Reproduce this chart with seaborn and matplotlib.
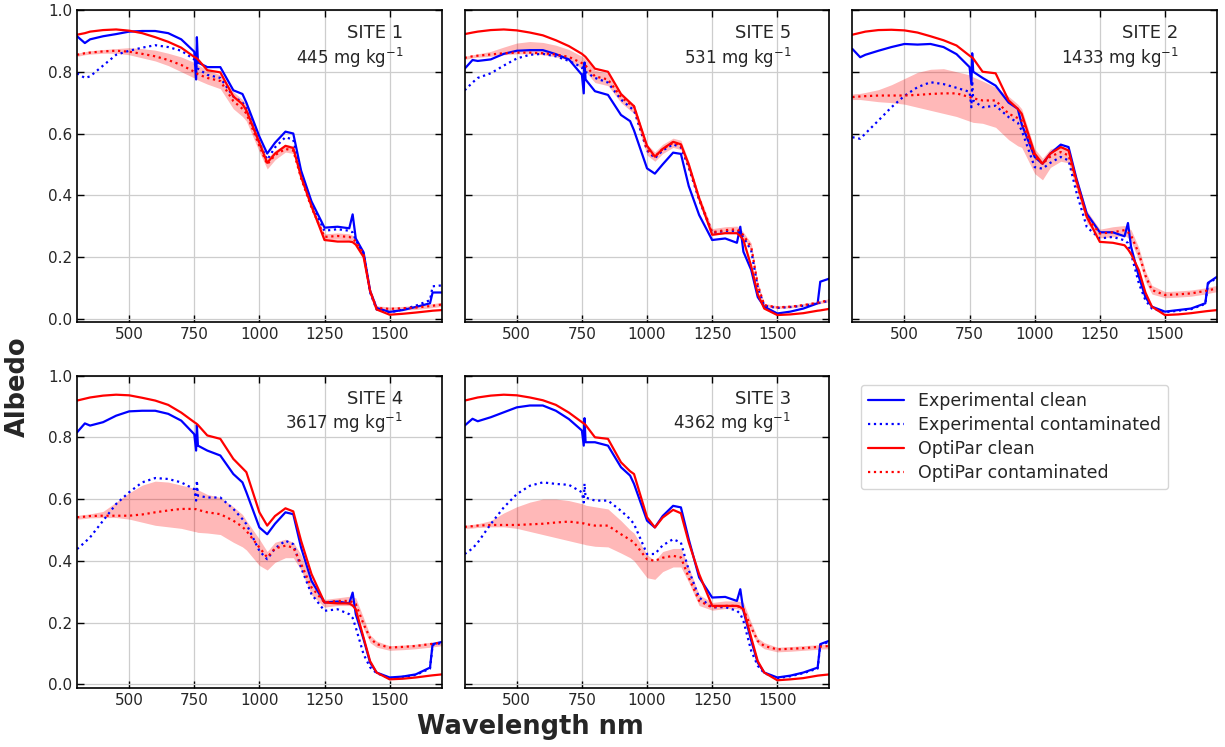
import matplotlib
matplotlib.use('Agg')
import matplotlib.pyplot as plt
import seaborn as sns

# Longueurs d'onde communes (nm)
wl = [300, 330, 350, 400, 450, 500, 550, 600, 650, 700,
      750, 757, 760, 764, 800, 850, 900, 935, 950, 1000,
      1030, 1060, 1100, 1130, 1160, 1200, 1250, 1300, 1345, 1358,
      1370, 1400, 1425, 1450, 1500, 1550, 1600, 1655, 1665, 1700]

# SITE 1 - 445 mg/kg
s1_exp_clean = [.915, .893, .905, .915, .922, .93, .932, .932, .925, .905,
                .865, .775, .912, .83, .815, .815, .74, .728, .70, .59,
                .535, .57, .606, .60, .48, .38, .295, .298, .293, .338,
                .26, .215, .09, .035, .022, .028, .038, .05, .085, .085]
s1_exp_cont = [.795, .78, .785, .82, .855, .868, .878, .886, .88, .868,
               .84, .80, .86, .81, .79, .78, .72, .70, .68, .57,
               .515, .555, .588, .58, .47, .37, .285, .29, .285, .28,
               .255, .21, .085, .03, .02, .03, .042, .06, .105, .108]
s1_opt_clean = [.92, .925, .93, .935, .937, .933, .925, .912, .897, .878,
                .848, .845, .843, .84, .805, .798, .72, .695, .675, .57,
                .505, .535, .56, .553, .46, .365, .255, .25, .25, .248,
                .24, .20, .09, .03, .013, .016, .02, .025, .026, .028]
s1_opt_cont = [.855, .86, .862, .866, .868, .865, .858, .85, .838, .822,
               .80, .797, .795, .792, .78, .77, .705, .68, .665, .56,
               .50, .53, .55, .545, .455, .36, .265, .268, .265, .26,
               .25, .21, .09, .035, .032, .034, .036, .041, .042, .046]
s1_band_lo = [.85, .855, .857, .86, .86, .855, .845, .835, .82, .80,
              .78, .777, .775, .773, .76, .745, .68, .655, .64, .54,
              .485, .515, .54, .535, .445, .35, .255, .258, .255, .25,
              .24, .20, .08, .028, .026, .028, .03, .035, .036, .04]
s1_band_hi = [.86, .865, .868, .872, .875, .878, .875, .87, .86, .848,
              .83, .828, .826, .823, .805, .79, .735, .71, .695, .58,
              .52, .545, .565, .56, .47, .37, .275, .278, .275, .27,
              .26, .22, .10, .042, .038, .04, .043, .048, .049, .053]

# SITE 5 - 531 mg/kg
s5_exp_clean = [.81, .838, .835, .84, .858, .868, .87, .87, .857, .84,
                .79, .73, .83, .775, .737, .725, .66, .64, .61, .487,
                .47, .50, .538, .534, .43, .336, .255, .26, .246, .298,
                .217, .158, .07, .039, .017, .023, .033, .05, .12, .13]
s5_exp_cont = [.74, .765, .78, .795, .82, .843, .855, .858, .85, .835,
               .815, .79, .82, .80, .78, .765, .71, .685, .675, .545,
               .52, .545, .565, .555, .49, .385, .278, .284, .285, .275,
               .265, .22, .10, .042, .035, .038, .042, .05, .052, .058]
s5_opt_clean = [.922, .927, .93, .935, .937, .934, .927, .918, .902, .883,
                .858, .853, .851, .848, .81, .80, .728, .70, .688, .56,
                .525, .55, .573, .565, .50, .39, .272, .277, .277, .268,
                .255, .17, .08, .033, .012, .014, .018, .026, .027, .032]
s5_opt_cont = [.845, .85, .852, .856, .86, .862, .862, .86, .856, .848,
               .828, .825, .823, .82, .785, .775, .718, .695, .688, .548,
               .525, .55, .57, .562, .495, .39, .28, .287, .29, .282,
               .27, .232, .11, .044, .037, .039, .044, .052, .054, .06]
s5_band_lo = [.84, .845, .847, .85, .855, .858, .858, .855, .848, .838,
              .81, .805, .803, .80, .765, .755, .70, .675, .665, .53,
              .51, .535, .555, .548, .48, .375, .27, .277, .28, .272,
              .26, .22, .10, .04, .033, .035, .04, .047, .049, .055]
s5_band_hi = [.85, .855, .858, .866, .88, .893, .898, .895, .886, .872,
              .85, .846, .844, .84, .805, .795, .73, .705, .695, .565,
              .54, .565, .585, .578, .51, .40, .292, .298, .30, .292,
              .28, .245, .12, .05, .042, .044, .049, .057, .059, .065]

# SITE 2 - 1433 mg/kg
s2_exp_clean = [.874, .847, .855, .868, .88, .89, .888, .89, .88, .857,
                .815, .76, .86, .80, .78, .755, .70, .68, .63, .524,
                .502, .535, .564, .556, .455, .34, .28, .28, .267, .31,
                .233, .136, .07, .039, .023, .028, .033, .05, .116, .136]
s2_exp_cont = [.588, .583, .60, .642, .685, .722, .75, .766, .76, .748,
               .735, .685, .77, .707, .685, .69, .653, .635, .61, .491,
               .486, .505, .524, .513, .41, .297, .26, .265, .254, .245,
               .21, .114, .06, .033, .021, .026, .031, .048, .113, .133]
s2_opt_clean = [.92, .926, .93, .935, .936, .934, .927, .915, .902, .885,
                .852, .848, .846, .843, .80, .795, .707, .68, .664, .535,
                .502, .535, .556, .545, .448, .33, .249, .246, .238, .225,
                .21, .157, .085, .039, .012, .014, .018, .024, .025, .028]
s2_opt_cont = [.718, .72, .721, .723, .723, .723, .725, .728, .73, .73,
               .718, .716, .715, .714, .707, .707, .664, .65, .642, .524,
               .502, .525, .54, .529, .44, .33, .276, .28, .287, .28,
               .27, .211, .14, .093, .077, .079, .082, .09, .092, .098]
s2_band_lo = [.71, .71, .708, .703, .70, .695, .685, .675, .665, .655,
              .64, .638, .637, .636, .633, .62, .58, .56, .555, .47,
              .45, .49, .51, .505, .42, .31, .262, .265, .27, .262,
              .25, .19, .12, .08, .068, .07, .073, .08, .082, .088]
s2_band_hi = [.728, .73, .733, .742, .758, .778, .798, .808, .81, .80,
              .79, .787, .785, .783, .77, .75, .72, .695, .68, .55,
              .52, .55, .56, .55, .46, .35, .29, .298, .302, .295,
              .288, .23, .155, .108, .088, .09, .093, .10, .102, .108]

# SITE 4 - 3617 mg/kg
s4_exp_clean = [.816, .845, .838, .849, .87, .884, .886, .886, .876, .854,
                .81, .757, .84, .773, .757, .741, .681, .654, .622, .508,
                .486, .52, .557, .551, .443, .335, .265, .268, .262, .297,
                .227, .146, .07, .038, .022, .025, .032, .054, .13, .137]
s4_exp_cont = [.438, .46, .476, .53, .584, .622, .654, .668, .665, .654,
               .632, .595, .66, .611, .605, .605, .568, .535, .519, .432,
               .405, .44, .465, .454, .378, .292, .238, .243, .227, .215,
               .184, .097, .055, .036, .02, .024, .03, .051, .127, .134]
s4_opt_clean = [.919, .925, .929, .935, .938, .936, .928, .919, .905, .88,
                .849, .845, .843, .84, .806, .795, .73, .70, .687, .557,
                .514, .545, .57, .56, .465, .357, .265, .262, .262, .255,
                .243, .151, .075, .038, .016, .018, .022, .028, .029, .032]
s4_opt_cont = [.541, .543, .545, .546, .546, .546, .55, .557, .563, .568,
               .568, .567, .566, .565, .557, .551, .53, .51, .497, .443,
               .411, .44, .449, .443, .39, .314, .265, .27, .27, .266,
               .26, .195, .15, .13, .119, .121, .124, .13, .131, .135]
s4_band_lo = [.535, .537, .539, .54, .54, .535, .525, .515, .51, .505,
              .495, .494, .493, .492, .49, .485, .46, .445, .435, .385,
              .37, .395, .41, .41, .37, .29, .25, .255, .255, .252,
              .245, .18, .135, .12, .11, .112, .115, .12, .121, .125]
s4_band_hi = [.547, .55, .552, .56, .59, .62, .645, .658, .655, .645,
              .635, .633, .632, .63, .615, .605, .575, .55, .53, .47,
              .43, .46, .47, .46, .42, .33, .275, .28, .285, .282,
              .28, .215, .16, .14, .125, .127, .13, .136, .137, .14]

# SITE 3 - 4362 mg/kg
s3_exp_clean = [.838, .86, .852, .865, .881, .897, .903, .903, .886, .859,
                .822, .773, .862, .784, .784, .773, .703, .676, .649, .53,
                .508, .545, .578, .573, .47, .346, .281, .283, .27, .308,
                .238, .141, .07, .038, .022, .028, .038, .054, .13, .141]
s3_exp_cont = [.422, .44, .459, .519, .573, .616, .643, .654, .649, .646,
               .622, .589, .65, .605, .595, .595, .562, .535, .519, .422,
               .422, .45, .47, .459, .37, .281, .249, .25, .238, .228,
               .205, .108, .06, .036, .02, .026, .036, .051, .127, .138]
s3_opt_clean = [.919, .925, .929, .935, .938, .936, .929, .92, .905, .88,
                .849, .845, .843, .84, .80, .795, .719, .69, .681, .541,
                .508, .54, .565, .554, .46, .357, .254, .254, .254, .25,
                .243, .151, .075, .038, .013, .016, .02, .028, .029, .032]
s3_opt_cont = [.51, .512, .514, .516, .516, .516, .518, .52, .524, .527,
               .522, .521, .52, .519, .514, .514, .486, .468, .459, .405,
               .40, .41, .416, .411, .346, .27, .249, .254, .254, .25,
               .243, .184, .14, .124, .113, .115, .117, .121, .122, .124]
s3_band_lo = [.505, .506, .508, .51, .51, .505, .495, .485, .475, .465,
              .455, .454, .453, .452, .447, .445, .425, .41, .40, .345,
              .34, .365, .38, .38, .33, .255, .24, .245, .245, .242,
              .235, .17, .13, .115, .105, .107, .11, .113, .114, .115]
s3_band_hi = [.515, .518, .52, .53, .555, .575, .59, .60, .60, .595,
              .585, .583, .582, .58, .575, .568, .53, .50, .49, .42,
              .40, .43, .44, .44, .38, .29, .265, .27, .27, .268,
              .265, .20, .15, .135, .12, .122, .125, .128, .129, .13]

site_names = ['SITE 1', 'SITE 5', 'SITE 2', 'SITE 4', 'SITE 3']
concentrations = ['445', '531', '1433', '3617', '4362']

sites = [
    (s1_exp_clean, s1_exp_cont, s1_opt_clean, s1_opt_cont, s1_band_lo, s1_band_hi),
    (s5_exp_clean, s5_exp_cont, s5_opt_clean, s5_opt_cont, s5_band_lo, s5_band_hi),
    (s2_exp_clean, s2_exp_cont, s2_opt_clean, s2_opt_cont, s2_band_lo, s2_band_hi),
    (s4_exp_clean, s4_exp_cont, s4_opt_clean, s4_opt_cont, s4_band_lo, s4_band_hi),
    (s3_exp_clean, s3_exp_cont, s3_opt_clean, s3_opt_cont, s3_band_lo, s3_band_hi),
]

sns.set_style('ticks')
plt.rcParams['font.family'] = ['DejaVu Sans']

fig, axes = plt.subplots(2, 3, figsize=(12.25, 7.47), dpi=100, sharex=True, sharey=True)
fig.subplots_adjust(left=0.0629, right=0.9935, top=0.9866, bottom=0.079,
                    wspace=0.063, hspace=0.17)

for k, ax in enumerate(axes.flat[:5]):
    exp_clean, exp_cont, opt_clean, opt_cont, lo, hi = sites[k]
    ax.fill_between(wl, lo, hi, color='#ff0000', alpha=0.28, linewidth=0)
    sns.lineplot(x=wl, y=exp_clean, ax=ax, color='blue', lw=1.6, label='Experimental clean')
    sns.lineplot(x=wl, y=exp_cont, ax=ax, color='blue', lw=1.6, linestyle=':',
                 label='Experimental contaminated')
    sns.lineplot(x=wl, y=opt_clean, ax=ax, color='red', lw=1.6, label='OptiPar clean')
    sns.lineplot(x=wl, y=opt_cont, ax=ax, color='red', lw=1.6, linestyle=':',
                 label='OptiPar contaminated')

    ax.set_xlim(300, 1700)
    ax.set_ylim(-0.012, 1.0)
    ax.set_xticks([500, 750, 1000, 1250, 1500])
    ax.set_yticks([0.0, 0.2, 0.4, 0.6, 0.8, 1.0])
    ax.grid(True, color='#cdcdcd', linewidth=0.9)
    ax.tick_params(direction='in', top=True, right=True, length=5, width=1,
                   labelsize=11, labelbottom=True, colors='black', labelcolor='#262626')
    for sp in ax.spines.values():
        sp.set_color('black')
        sp.set_linewidth(1.2)

    ax.text(0.895, 0.925, site_names[k], transform=ax.transAxes,
            ha='right', va='center', fontsize=13, color='#262626')
    ax.text(0.895, 0.848, concentrations[k] + r' mg kg$^{-1}$', transform=ax.transAxes,
            ha='right', va='center', fontsize=12, color='#262626')

    handles, labels = ax.get_legend_handles_labels()
    ax.get_legend().remove()

axes[1, 2].axis('off')

fig.legend(handles, labels, loc='upper left',
           bbox_to_anchor=(861 / 1225, 1 - 385 / 747), borderaxespad=0,
           fontsize=12.5, handlelength=2.1, labelspacing=0.35,
           frameon=True, edgecolor='#cccccc')

fig.text(0.0147, 0.483, 'Albedo', rotation=90, fontsize=18.5, fontweight='bold',
         ha='center', va='center')
fig.text(0.4327, 0.027, 'Wavelength nm', fontsize=18.5, fontweight='bold',
         ha='center', va='center')

fig.savefig('out.png', dpi=100)
